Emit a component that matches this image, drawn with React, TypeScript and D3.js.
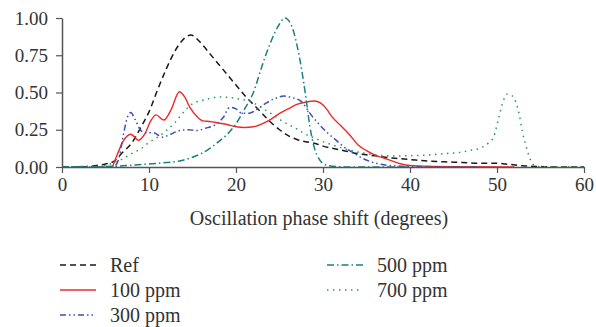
import { useRef, useEffect } from "react";
import * as d3 from "d3";

type Pt = [number, number];

const xTicks = [0, 10, 20, 30, 40, 50, 60];
const yTicks = [0, 0.25, 0.5, 0.75, 1.0];

const refData: Pt[] = [
  [0, 0], [2, 0], [3, 0.003], [4, 0.01], [5, 0.02], [6, 0.04], [7, 0.1], [8, 0.16],
  [9, 0.26], [10, 0.37], [11, 0.52], [12, 0.66], [13, 0.78], [14, 0.86], [14.8, 0.886],
  [16, 0.83], [17, 0.76], [18, 0.69], [19, 0.62], [20, 0.55], [21, 0.48], [22, 0.42],
  [23, 0.36], [24, 0.3], [25, 0.25], [26, 0.21], [27, 0.185], [28, 0.17], [29, 0.16],
  [30, 0.14], [32, 0.115], [34, 0.09], [36, 0.075], [38, 0.06], [40, 0.05], [42, 0.04],
  [44, 0.035], [46, 0.03], [48, 0.025], [50, 0.025], [51, 0.02], [53, 0.008], [55, 0.003],
  [57, 0], [60, 0],
];

const ppm100: Pt[] = [
  [5.8, 0], [6.4, 0.09], [7, 0.17], [7.9, 0.22], [8.8, 0.18], [9.5, 0.22],
  [10.2, 0.31], [10.8, 0.35], [11.7, 0.315], [12.5, 0.38], [13.5, 0.505], [14.1, 0.47],
  [14.7, 0.4], [15.5, 0.34], [16.2, 0.31], [17, 0.305], [18, 0.295], [19, 0.285],
  [20, 0.27], [21, 0.265], [22, 0.27], [23, 0.29], [24, 0.32], [25, 0.36], [26, 0.39],
  [27, 0.42], [28, 0.435], [29, 0.443], [29.7, 0.43], [30.4, 0.39], [31, 0.34],
  [32, 0.28], [33, 0.22], [34, 0.15], [35, 0.11], [36, 0.08], [37, 0.06], [38, 0.04],
  [39, 0.02], [40, 0.01], [42, 0.005], [45, 0.002], [52, 0],
];

const ppm300: Pt[] = [
  [0, 0], [5, 0], [6, 0.005], [6.5, 0.05], [7, 0.2], [7.5, 0.33], [7.9, 0.365],
  [8.4, 0.32], [9, 0.25], [9.5, 0.23], [10.5, 0.23], [11.5, 0.2], [12.5, 0.22],
  [13.5, 0.245], [14.5, 0.25], [15.5, 0.245], [16.5, 0.26], [17.5, 0.28], [18.5, 0.33],
  [19.3, 0.4], [20, 0.39], [20.7, 0.36], [21.5, 0.36], [22.5, 0.39], [23.5, 0.43],
  [24.5, 0.46], [25.5, 0.476], [26.5, 0.465], [27.5, 0.44], [28.5, 0.36], [29.5, 0.29],
  [30.5, 0.23], [31.5, 0.18], [32.5, 0.13], [33.5, 0.095], [34.5, 0.06], [35.5, 0.035],
  [37, 0.015], [39, 0.005], [42, 0], [48, 0],
];

const ppm500: Pt[] = [
  [0, 0], [3, 0.003], [6, 0.005], [8, 0.012], [10, 0.02], [12, 0.03], [13.5, 0.04],
  [15, 0.065], [16, 0.09], [17, 0.125], [18, 0.17], [19, 0.22], [20, 0.29], [21, 0.39],
  [22, 0.5], [23, 0.68], [24, 0.84], [25, 0.96], [25.6, 1.0], [26.3, 0.96], [27, 0.82],
  [27.5, 0.67], [28, 0.48], [28.5, 0.27], [29, 0.13], [29.6, 0.05], [30.4, 0.013],
  [31.5, 0.003], [33, 0], [40, 0],
];

const ppm700: Pt[] = [
  [0, 0], [4, 0], [5, 0.01], [6, 0.03], [7, 0.055], [8, 0.09], [9, 0.12], [10, 0.165],
  [11, 0.2], [12, 0.245], [13, 0.3], [14, 0.37], [15, 0.425], [16, 0.445], [17, 0.46],
  [18, 0.47], [19, 0.468], [20, 0.46], [21, 0.45], [22, 0.43], [23, 0.395], [24, 0.36],
  [25, 0.32], [26, 0.285], [27, 0.255], [28, 0.22], [29, 0.195], [30, 0.17], [31, 0.15],
  [32, 0.13], [33, 0.115], [34, 0.1], [35, 0.09], [36, 0.082], [37, 0.076], [38, 0.074],
  [40, 0.076], [42, 0.08], [44, 0.09], [46, 0.1], [47, 0.112], [48, 0.125], [49, 0.16],
  [49.6, 0.2], [50.2, 0.33], [50.7, 0.44], [51.2, 0.49], [51.7, 0.48], [52.2, 0.43],
  [52.6, 0.34], [52.9, 0.24], [53.3, 0.15], [53.7, 0.07], [54.2, 0.015], [55, 0.002],
  [57, 0], [60, 0],
];

const series = [
  { name: "Ref", data: refData, color: "#1a1a1a", dash: "6,4", col: 0, row: 0 },
  { name: "100 ppm", data: ppm100, color: "#f02828", dash: "", col: 0, row: 1 },
  { name: "300 ppm", data: ppm300, color: "#3a50b4", dash: "6,3,1.5,3,1.5,3", col: 0, row: 2 },
  { name: "500 ppm", data: ppm500, color: "#1b8080", dash: "7,3,1.5,3", col: 1, row: 0 },
  { name: "700 ppm", data: ppm700, color: "#2e9a52", dash: "1.5,4.5", col: 1, row: 1 },
];

const W = 596;
const H = 327;
const plot = { left: 62, right: 584, top: 18, bottom: 167 };
const font = "'Liberation Serif', 'Times New Roman', serif";

export default function App() {
  const svgRef = useRef<SVGSVGElement>(null);

  useEffect(() => {
    const svg = d3.select(svgRef.current);
    svg.selectAll("*").remove();

    const x = d3.scaleLinear().domain([0, 60]).range([plot.left, plot.right]);
    const y = d3.scaleLinear().domain([0, 1]).range([plot.bottom, plot.top]);

    const line = d3
      .line<Pt>()
      .x((d) => x(d[0]))
      .y((d) => y(d[1]))
      .curve(d3.curveMonotoneX);

    series.forEach((s) => {
      svg
        .append("path")
        .attr("d", line(s.data))
        .attr("fill", "none")
        .attr("stroke", s.color)
        .attr("stroke-width", s.name === "100 ppm" ? 1.4 : 1.5)
        .attr("stroke-dasharray", s.dash || null);
    });

    const xAxis = svg
      .append("g")
      .attr("transform", `translate(0,${plot.bottom})`)
      .call(d3.axisBottom(x).tickValues(xTicks).tickSize(6).tickPadding(5).tickSizeOuter(0));
    const yAxis = svg
      .append("g")
      .attr("transform", `translate(${plot.left},0)`)
      .call(
        d3.axisLeft(y).tickValues(yTicks).tickSize(6).tickPadding(8).tickSizeOuter(0)
          .tickFormat(d3.format(".2f"))
      );

    [xAxis, yAxis].forEach((g) => {
      g.attr("font-family", font).attr("font-size", 19);
      g.select(".domain").attr("stroke", "#555").attr("stroke-width", 1.5);
      g.selectAll(".tick line").attr("stroke", "#555").attr("stroke-width", 1.2);
      g.selectAll(".tick text").attr("fill", "#333");
    });

    svg
      .append("text")
      .attr("x", 319)
      .attr("y", 225)
      .attr("text-anchor", "middle")
      .attr("fill", "#333")
      .attr("font-family", font)
      .attr("font-size", 20)
      .text("Oscillation phase shift (degrees)");

    const colX = [60, 327];
    const rowY = [265, 290, 315];
    series.forEach((s) => {
      const lx = colX[s.col];
      const ly = rowY[s.row];
      svg
        .append("line")
        .attr("x1", lx)
        .attr("x2", lx + 36)
        .attr("y1", ly)
        .attr("y2", ly)
        .attr("stroke", s.color)
        .attr("stroke-width", 1.5)
        .attr("stroke-dasharray", s.dash || null);
      svg
        .append("text")
        .attr("x", lx + 50)
        .attr("y", ly)
        .attr("dy", "0.35em")
        .attr("fill", "#333")
        .attr("font-family", font)
        .attr("font-size", 20)
        .text(s.name);
    });
  }, []);

  return (
    <svg
      ref={svgRef}
      width={W}
      height={H}
      style={{ position: "absolute", left: 0, top: 0, background: "#fff" }}
    />
  );
}
